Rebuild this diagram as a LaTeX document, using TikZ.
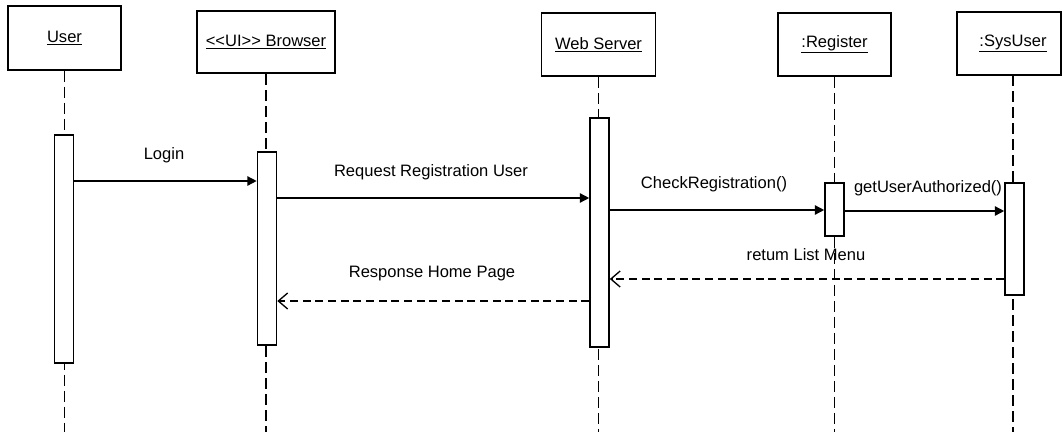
\documentclass[tikz,border=0pt]{standalone}
\usepackage{fontspec}
\setmainfont{Liberation Sans}
\usetikzlibrary{arrows.meta}
\begin{document}
\begin{tikzpicture}[x=0.75pt,y=-0.75pt,
  font=\fontsize{12.4pt}{14pt}\selectfont,
  objbox/.style={draw,line width=1.3pt,fill=white,inner sep=0pt},
  actbox/.style={draw,line width=1.2pt,fill=white,minimum width=14.25pt,inner sep=0pt},
  lifeline/.style={line width=1.1pt,dash pattern=on 8pt off 4pt},
  callmsg/.style={line width=1.1pt,-{Triangle[length=7pt,width=7pt]}},
  retmsg/.style={line width=1.1pt,dash pattern=on 6pt off 3.5pt,-{Straight Barb[length=7pt,width=12pt,line width=1pt]}},
  msglabel/.style={anchor=base,inner sep=0pt}]
\clip (0,0) rectangle (1062,432);
\fill[white] (0,0) rectangle (1062,432);

% object boxes
\node[objbox,minimum width=84.75pt,minimum height=48pt] (user) at (64.5,38) {\underline{User}};
\node[objbox,minimum width=103.5pt,minimum height=46.5pt] (browser) at (266,42) {\underline{<{}<UI>{}> Browser}};
\node[objbox,minimum width=85.5pt,minimum height=47.25pt] (web) at (598.5,44.5) {\underline{Web Server}};
\node[objbox,minimum width=84.75pt,minimum height=47.25pt] (reg) at (834.5,44.5) {\underline{:Register}};
\node[objbox,minimum width=78pt,minimum height=47.25pt] (sys) at (1009,43.5) {\hspace*{6pt}\underline{:SysUser}};

% lifelines
\coordinate (endUser) at (64.5,432);
\coordinate (endBrowser) at (266,432);
\coordinate (endWeb) at (598.5,432);
\coordinate (endReg) at (834.5,432);
\coordinate (sysTop) at (1013,75);
\coordinate (endSys) at (1013,432);
\draw[lifeline] (user.south) -- (endUser);
\draw[lifeline] (browser.south) -- (endBrowser);
\draw[lifeline] (web.south) -- (endWeb);
\draw[lifeline] (reg.south) -- (endReg);
\draw[lifeline] (sysTop) -- (endSys);

% activation bars
\node[actbox,minimum height=171pt] (aUser) at (64,249) {};
\node[actbox,minimum height=144.75pt] (aBrowser) at (267,248.5) {};
\node[actbox,minimum height=171.75pt] (aWeb) at (599.5,232.5) {};
\node[actbox,minimum height=39.75pt] (aReg) at (834.5,209.5) {};
\node[actbox,minimum height=84pt] (aSys) at (1014.5,239) {};

% messages
\draw[callmsg] (aUser.east |- 0,181) -- (aBrowser.west |- 0,181);
\draw[callmsg] (aBrowser.east |- 0,198) -- (aWeb.west |- 0,198);
\draw[callmsg] (aWeb.east |- 0,210) -- (aReg.west |- 0,210);
\draw[callmsg] (aReg.east |- 0,211) -- (aSys.west |- 0,211);
\draw[retmsg] (aSys.west |- 0,279) -- (aWeb.east |- 0,279);
\draw[retmsg] (aWeb.west |- 0,301) -- (aBrowser.east |- 0,301);

% labels
\node[msglabel] (lLogin) at (164,159) {Login};
\node[msglabel] (lReq) at (431,176) {Request Registration User};
\node[msglabel] (lCheck) at (714,188) {CheckRegistration()};
\node[msglabel] (lGet) at (928,192) {getUserAuthorized()};
\node[msglabel] (lRet) at (806,260) {retum List Menu};
\node[msglabel] (lResp) at (432,277) {Response Home Page};
\end{tikzpicture}
\end{document}
